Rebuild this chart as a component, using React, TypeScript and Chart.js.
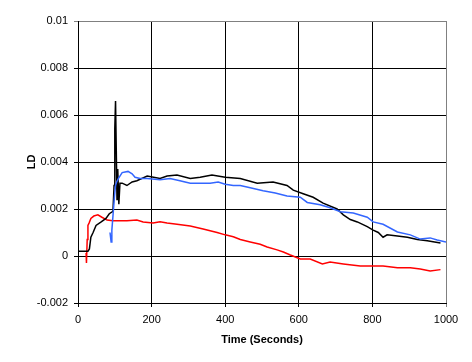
import React, { useEffect, useRef } from "react";
import { Chart, registerables } from "chart.js";

Chart.register(...registerables);

// Time (seconds) / LD values
const blackTime = [0, 27, 31, 35, 41, 49, 63, 76, 85, 95, 98, 100, 102, 104, 106, 108, 111, 114, 120, 133, 147, 160, 188, 223, 242, 269, 305, 332, 364, 400, 441, 487, 530, 568, 585, 612, 639, 666, 704, 721, 740, 759, 786, 802, 816, 829, 840, 868, 895, 922, 949, 985];
const blackLD = [0.0002, 0.0002, 0.0003, 0.0008, 0.001, 0.0013, 0.00145, 0.0016, 0.0018, 0.0019, 0.003, 0.0054, 0.0066, 0.0045, 0.0024, 0.0037, 0.0022, 0.0031, 0.0031, 0.003, 0.00315, 0.0032, 0.0034, 0.0033, 0.0034, 0.00345, 0.0033, 0.00335, 0.00345, 0.00335, 0.0033, 0.0031, 0.00315, 0.003, 0.0028, 0.00265, 0.0025, 0.00225, 0.002, 0.00175, 0.00155, 0.00145, 0.00125, 0.0011, 0.001, 0.0008, 0.0009, 0.00085, 0.0008, 0.0007, 0.00065, 0.00055];

const blueTime = [87, 90, 92, 95, 99, 102, 105, 110, 120, 136, 147, 155, 169, 188, 223, 250, 277, 305, 359, 381, 400, 422, 441, 468, 503, 536, 568, 604, 623, 658, 685, 713, 748, 786, 802, 829, 868, 903, 930, 957, 976, 1000];
const blueLD = [0.001, 0.0006, 0.0011, 0.0017, 0.0025, 0.003, 0.00315, 0.0033, 0.00355, 0.0036, 0.0035, 0.00335, 0.0033, 0.0033, 0.00325, 0.0033, 0.0032, 0.0031, 0.0031, 0.00315, 0.00305, 0.003, 0.003, 0.0029, 0.00278, 0.00268, 0.00255, 0.0025, 0.00228, 0.00218, 0.00205, 0.00188, 0.00183, 0.00165, 0.00145, 0.00135, 0.00102, 0.0009, 0.00072, 0.00077, 0.00068, 0.0006];

const redTime = [22, 23, 25, 27, 30, 35, 43, 54, 65, 79, 95, 133, 160, 177, 204, 223, 242, 269, 305, 340, 378, 400, 422, 441, 468, 495, 514, 541, 558, 577, 604, 631, 664, 685, 721, 767, 829, 868, 903, 930, 957, 985];
const redLD = [0.00013, -0.0003, 0.0007, 0.0013, 0.0014, 0.0016, 0.0017, 0.00175, 0.00165, 0.00153, 0.0015, 0.0015, 0.00153, 0.00145, 0.0014, 0.00146, 0.0014, 0.00135, 0.00128, 0.00115, 0.001, 0.0009, 0.00082, 0.0007, 0.0006, 0.0005, 0.00038, 0.00026, 0.00017, 0.00004, -0.00013, -0.00013, -0.00034, -0.00026, -0.00034, -0.00043, -0.00043, -0.0005, -0.0005, -0.00055, -0.00064, -0.00058];

const xTicks = [0, 200, 400, 600, 800, 1000];
const yTicks = [-0.002, 0, 0.002, 0.004, 0.006, 0.008, 0.01];

const FONT = "'Liberation Sans', Arial, sans-serif";

function pts(t: number[], v: number[]) {
  return t.map((x, i) => ({ x, y: v[i] }));
}

export default function App() {
  const ref = useRef<HTMLCanvasElement | null>(null);

  useEffect(() => {
    if (!ref.current) return;
    const chart = new Chart(ref.current, {
      type: "line",
      data: {
        datasets: [
          { label: "blue", data: pts(blueTime, blueLD), borderColor: "#3366ff", borderWidth: 1.5, pointRadius: 0, tension: 0, fill: false },
          { label: "black", data: pts(blackTime, blackLD), borderColor: "#000000", borderWidth: 1.5, pointRadius: 0, tension: 0, fill: false },
          { label: "red", data: pts(redTime, redLD), borderColor: "#ff0000", borderWidth: 1.5, pointRadius: 0, tension: 0, fill: false },
        ],
      },
      options: {
        animation: false,
        responsive: false,
        devicePixelRatio: 1,
        events: [],
        layout: { padding: { top: 21, right: 26, bottom: 0, left: 0 } },
        plugins: { legend: { display: false }, tooltip: { enabled: false } },
        scales: {
          x: {
            type: "linear",
            min: 0,
            max: 1000,
            afterBuildTicks: (s: any) => { s.ticks = xTicks.map((v) => ({ value: v })); },
            afterFit: (s: any) => { s.height = 59; },
            ticks: { color: "#000", font: { family: FONT, size: 11 }, padding: 6, maxRotation: 0, callback: (v: any) => String(v) },
            grid: {
              color: (c: any) => (c.tick && c.tick.value === 1000 ? "#808080" : "#000"),
              lineWidth: 1,
              tickLength: 4,
            },
            border: { color: "#000", width: 1 },
            title: { display: true, text: "Time (Seconds)", color: "#000", font: { family: FONT, size: 11, weight: "bold" }, padding: { bottom: 15, top: 0 } },
          },
          y: {
            type: "linear",
            min: -0.002,
            max: 0.01,
            afterBuildTicks: (s: any) => { s.ticks = yTicks.map((v) => ({ value: v })); },
            afterFit: (s: any) => { s.width = 78; },
            ticks: { color: "#000", font: { family: FONT, size: 11 }, padding: 6, callback: (v: any) => String(parseFloat(Number(v).toFixed(4))) },
            grid: {
              color: (c: any) => (c.tick && Math.abs(c.tick.value - 0.01) < 1e-9 ? "#808080" : "#000"),
              lineWidth: 1,
              tickLength: 4,
            },
            border: { color: "#000", width: 1 },
            title: { display: true, text: "LD", color: "#000", font: { family: FONT, size: 11, weight: "bold" }, padding: { top: 25, bottom: 0 } },
          },
        },
      },
    } as any);
    return () => chart.destroy();
  }, []);

  return (
    <div style={{ position: "fixed", left: 0, top: 0, width: 472, height: 362, background: "#fff" }}>
      <canvas ref={ref} width={472} height={362} style={{ width: 472, height: 362, display: "block" }} />
    </div>
  );
}
